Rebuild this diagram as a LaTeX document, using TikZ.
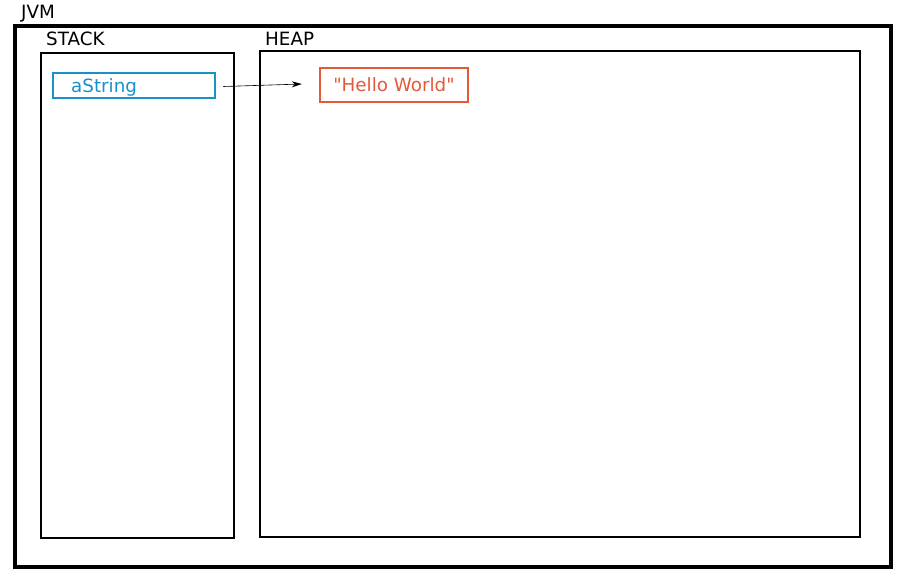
\documentclass[tikz,border=0pt]{standalone}
\usepackage{fontspec}
\setmainfont{DejaVu Sans}[Ligatures=TeXOff]
\usetikzlibrary{arrows.meta}
\definecolor{varblue}{RGB}{26,144,200}
\definecolor{objred}{RGB}{228,89,58}
\tikzset{
    area/.style={draw, line width=2.8pt, inner sep=0pt},
    etiqueta/.style={anchor=west, inner sep=0pt, font=\fontsize{18.3}{20}\selectfont},
    caja/.style={draw, line width=2.5pt, inner sep=0pt, font=\fontsize{18.3}{20}\selectfont},
}
\begin{document}
\begin{tikzpicture}[x=1pt, y=-1pt]
        \useasboundingbox (0,0) rectangle (902,582);
        % ~~~~ Areas de memoria ~~~~ %
        \node[area, line width=3.4pt, minimum width=876pt, minimum height=541pt] (jvm) at (453,296.5) {};
        \node[area, minimum width=193pt, minimum height=485pt] (stack) at (137.5,295.5) {};
        \node[area, minimum width=600pt, minimum height=486pt] (heap) at (560,294) {};

        % ~~~~ Etiquetas ~~~~ %
        \node[etiqueta] (jvmlbl) at (21,14) {JVM};
        \node[etiqueta] (stacklbl) at (46,39) {STACK};
        \node[etiqueta] (heaplbl) at (265,39) {HEAP};

        % ~~~~ Variable y objeto ~~~~ %
        \node[caja, varblue, minimum width=162pt, minimum height=25pt] (astring) at (134,85.5) {};
        \node[varblue, etiqueta] (astringlbl) at (71,87.5) {aString};
        \node[caja, objred, minimum width=148pt, minimum height=34pt] (hello) at (394,85) {"Hello World"};

        % ~~~~ Referencia ~~~~ %
        \draw[-{Stealth[length=10pt, width=6pt]}, line width=0.6pt]
            ([xshift=7pt, yshift=-1pt]astring.east) -- ([xshift=-17pt, yshift=1pt]hello.west);
    \end{tikzpicture}
\end{document}
